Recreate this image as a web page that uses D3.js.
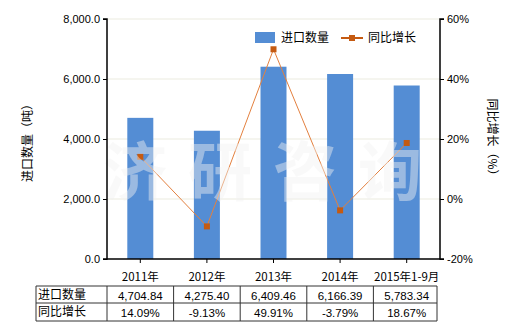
<!DOCTYPE html>
<html><head><meta charset="utf-8">
<script src="https://cdn.jsdelivr.net/npm/d3@7"></script>
<style>body{margin:0;background:#fff;}svg{font-family:"Noto Sans CJK SC","DejaVu Sans",sans-serif;}</style>
</head><body>
<svg id="c" width="520" height="330"></svg>
<script>
const categories = ["2011年","2012年","2013年","2014年","2015年1-9月"];
const importQty = [4704.84, 4275.40, 6409.46, 6166.39, 5783.34];
const yoyGrowth = [14.09, -9.13, 49.91, -3.79, 18.67];
const qtyLabels = ["4,704.84","4,275.40","6,409.46","6,166.39","5,783.34"];
const growthLabels = ["14.09%","-9.13%","49.91%","-3.79%","18.67%"];
const leftTicks = [0,2000,4000,6000,8000];
const rightTicks = [-20,0,20,40,60];
const watermark = ["济","研","咨","询"];

const svg = d3.select("#c");
const L=107, R=440, T=19, B=259;
const NUMF = "'Liberation Sans',Arial,sans-serif";
const xc = d3.scaleBand().domain(categories).range([L,R]);
const yL = d3.scaleLinear().domain([0,8000]).range([B,T]);
const yR = d3.scaleLinear().domain([-20,60]).range([B,T]);
const cx = i => xc(categories[i])+xc.bandwidth()/2;

// gridlines
svg.append("g").selectAll("line").data(leftTicks.slice(1)).join("line")
  .attr("x1",L).attr("x2",R).attr("y1",d=>yL(d)).attr("y2",d=>yL(d))
  .attr("stroke","#ebebdf").attr("stroke-width",1);

// bars
svg.append("g").selectAll("rect").data(importQty).join("rect")
  .attr("x",(d,i)=>cx(i)-13).attr("width",26)
  .attr("y",d=>yL(d)).attr("height",d=>B-yL(d)).attr("fill","#548dd4");

// line
const line = d3.line().x((d,i)=>cx(i)).y(d=>yR(d));
svg.append("path").datum(yoyGrowth).attr("d",line).attr("fill","none")
  .attr("stroke","#e3803f").attr("stroke-width",1);
svg.append("g").selectAll("rect").data(yoyGrowth).join("rect")
  .attr("x",(d,i)=>cx(i)-3).attr("y",d=>yR(d)-3)
  .attr("width",6).attr("height",6).attr("fill","#c55a11");

// watermark
svg.append("g").selectAll("text").data(watermark).join("text")
  .attr("x",(d,i)=>135+i*85).attr("y",195).attr("text-anchor","middle")
  .attr("font-size",64).attr("font-weight","bold").attr("fill","#f2f2f2").attr("fill-opacity",0.45)
  .text(d=>d);

// axes
const axL = svg.append("g").attr("transform",`translate(${L},0)`)
  .call(d3.axisLeft(yL).tickValues(leftTicks).tickFormat(d3.format(",.1f")).tickSize(4));
const axR = svg.append("g").attr("transform",`translate(${R},0)`)
  .call(d3.axisRight(yR).tickValues(rightTicks).tickFormat(d=>d+"%").tickSize(4));
const axB = svg.append("g").attr("transform",`translate(0,${B})`)
  .call(d3.axisBottom(xc).tickSize(4).tickSizeOuter(0));
[axL,axR,axB].forEach(a=>{
  a.select(".domain").attr("stroke","#000").attr("stroke-width",1.5);
  a.selectAll(".tick line").attr("stroke","#000");
  a.selectAll("text").attr("font-size",11).attr("fill","#000").attr("font-family",NUMF);
});
axL.select(".domain").attr("d",`M-4,${T}H0V${B}H-4`);
axR.select(".domain").attr("d",`M4,${T}H0V${B}H4`);
axB.select(".domain").attr("d",`M${L},0H${R}`);
axB.selectAll("text").attr("dy","1.3em").attr("font-size",11.5).attr("font-family","'Noto Sans CJK SC',sans-serif");

// axis titles
svg.append("text").attr("transform","translate(32,140) rotate(-90)").attr("text-anchor","middle")
  .attr("font-size",12).text("进口数量（吨）");
svg.append("text").attr("transform","translate(488,140) rotate(90)").attr("text-anchor","middle")
  .attr("font-size",12).text("同比增长（%）");

// legend
svg.append("rect").attr("x",255).attr("y",32).attr("width",20).attr("height",11).attr("fill","#548dd4");
svg.append("text").attr("x",281).attr("y",42).attr("font-size",12).text("进口数量");
svg.append("line").attr("x1",341).attr("x2",363).attr("y1",38).attr("y2",38).attr("stroke","#c55a11").attr("stroke-width",2);
svg.append("rect").attr("x",349).attr("y",35).attr("width",6).attr("height",6).attr("fill","#c55a11");
svg.append("text").attr("x",368).attr("y",42).attr("font-size",12).text("同比增长");

// table
const tL=36, tR=437, rows=[286,303,321];
const tg = svg.append("g").attr("stroke","#333").attr("stroke-width",1);
rows.forEach(r=>tg.append("line").attr("x1",tL).attr("x2",tR).attr("y1",r).attr("y2",r));
const cols=[tL,L].concat(categories.map(c=>xc(c)+xc.bandwidth()));
cols[cols.length-1]=tR;
cols.forEach(c=>tg.append("line").attr("x1",c).attr("x2",c).attr("y1",rows[0]).attr("y2",rows[2]));
[["进口数量",qtyLabels],["同比增长",growthLabels]].forEach(([name,labs],ri)=>{
  const yy=(rows[ri]+rows[ri+1])/2+4;
  svg.append("text").attr("x",tL+2).attr("y",yy).attr("font-size",12).text(name);
  svg.append("g").selectAll("text").data(labs).join("text")
    .attr("x",(d,i)=>cx(i)).attr("y",yy+1).attr("text-anchor","middle")
    .attr("font-size",11.5).attr("font-family",NUMF).text(d=>d);
});
</script>
</body></html>
